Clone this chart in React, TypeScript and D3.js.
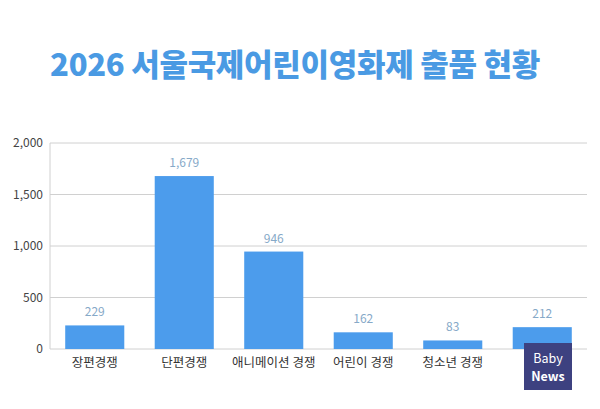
import React from "react";
import * as d3 from "d3";

const width = 600;
const height = 409;
const margin = { top: 143, right: 13, bottom: 60, left: 50 };

const categories = ["장편경쟁", "단편경쟁", "애니메이션 경쟁", "어린이 경쟁", "청소년 경쟁", ""];
const counts = [229, 1679, 946, 162, 83, 212];
const yTicks = [0, 500, 1000, 1500, 2000];

const font = "'Noto Sans CJK KR', 'Noto Sans', sans-serif";

const App = () => {
  const x = d3
    .scaleBand()
    .domain(categories.map((c, i) => String(i)))
    .range([margin.left, width - margin.right])
    .paddingInner(0.34)
    .paddingOuter(0.17);
  const y = d3
    .scaleLinear()
    .domain([0, 2000])
    .range([height - margin.bottom, margin.top]);
  const fmt = d3.format(",");

  return (
    <svg width={width} height={height} style={{ display: "block", position: "absolute", left: 0, top: 0, background: "#fff" }}>
      <text
        x={295}
        y={76}
        textAnchor="middle"
        fill="#4a9ae3"
        fontFamily={font}
        fontWeight={900}
        fontSize={31}
        letterSpacing={-0.3}
      >
        2026 서울국제어린이영화제 출품 현황
      </text>

      {/* grid + y axis */}
      {yTicks.map((t) => (
        <g key={t}>
          <line x1={margin.left} x2={width - margin.right} y1={y(t)} y2={y(t)} stroke="#d0d0d0" strokeWidth={1} />
          <text
            x={margin.left - 7}
            y={y(t)}
            dy="0.35em"
            textAnchor="end"
            fill="#444"
            fontFamily={font}
            fontSize={12}
          >
            {fmt(t)}
          </text>
        </g>
      ))}
      <line x1={margin.left} x2={margin.left} y1={y(2000)} y2={y(0)} stroke="#d0d0d0" />

      {/* bars */}
      {counts.map((v, i) => (
        <g key={i}>
          <rect
            x={x(String(i))}
            y={y(v)}
            width={x.bandwidth()}
            height={y(0) - y(v)}
            fill="#4c9cec"
          />
          <text
            x={(x(String(i)) as number) + x.bandwidth() / 2}
            y={y(v) - 9}
            textAnchor="middle"
            fill="#86a9c8"
            fontFamily={font}
            fontSize={12}
          >
            {fmt(v)}
          </text>
          {categories[i] && (
            <text
              x={(x(String(i)) as number) + x.bandwidth() / 2}
              y={y(0) + 18}
              textAnchor="middle"
              fill="#333"
              fontFamily={font}
              fontSize={12.5}
            >
              {categories[i]}
            </text>
          )}
        </g>
      ))}

      {/* logo */}
      <g transform="translate(524,343)">
        <rect width={48} height={47} fill="#3d4180" />
        <text x={24} y={20} textAnchor="middle" fill="#fff" fontFamily={font} fontSize={12.5}>
          Baby
        </text>
        <text x={24} y={38} textAnchor="middle" fill="#fff" fontFamily={font} fontWeight={700} fontSize={12.5}>
          News
        </text>
      </g>
    </svg>
  );
};

export default App;
